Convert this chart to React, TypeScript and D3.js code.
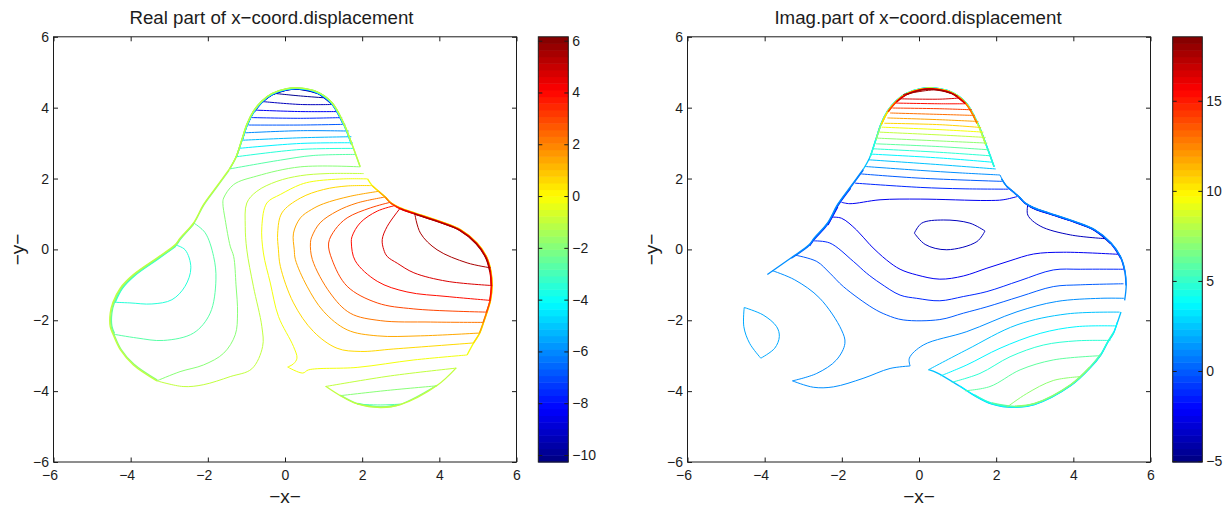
import React, { useEffect, useRef } from 'react';
import * as d3 from 'd3';

type Pt = [number, number];
type Line = [number, Pt[]];
type Span = [number, string, Pt, Pt];

const xyTicks = [-6, -4, -2, 0, 2, 4, 6];
const realBarTicks = [-10, -8, -6, -4, -2, 0, 2, 4, 6];
const imagBarTicks = [-5, 0, 5, 10, 15];
const realBarRange: Pt = [-10.27, 6.15];
const imagBarRange: Pt = [-5.05, 18.55];

// outline of the plate, shared by both plots
const lobeRim: Pt[] = [[-1.44, 2.27], [-1.27, 2.61], [-1.12, 3.1], [-0.99, 3.53], [-0.82, 3.9], [-0.6, 4.19], [-0.34, 4.4], [0.05, 4.54], [0.34, 4.56], [0.83, 4.45], [1.22, 4.14], [1.52, 3.57], [1.74, 2.96], [1.95, 2.33]];
const leftRim: Pt[] = [[-1.44, 2.27], [-1.77, 1.78], [-2.11, 1.27], [-2.37, 0.75], [-2.72, 0.32], [-2.85, 0.13], [-3.32, -0.24], [-3.93, -0.71], [-4.27, -1.09], [-4.46, -1.49], [-4.53, -1.8], [-4.53, -2.18], [-4.46, -2.39], [-4.27, -2.83], [-3.93, -3.26], [-3.32, -3.71]];
const rightRim: Pt[] = [[2.04, 2.14], [2.14, 1.99], [2.26, 1.8], [2.43, 1.64], [2.6, 1.48], [2.73, 1.33], [2.86, 1.24], [2.99, 1.17], [3.36, 1.03], [4.03, 0.79], [4.55, 0.56], [4.98, 0.18], [5.24, -0.24], [5.34, -0.62], [5.37, -1.02], [5.33, -1.44], [5.24, -1.77], [5.15, -2.06], [5.05, -2.36], [4.89, -2.64], [4.72, -2.98], [4.44, -3.35], [3.94, -3.85], [2.99, -4.39], [2.47, -4.47], [1.87, -4.37], [1.42, -4.13], [1.05, -3.87], [0.46, -3.49], [0.24, -3.4]];

const realLines: Line[] = [
    [-10, [[-0.25, 4.4], [0.4, 4.33], [1.0, 4.28]]],
    [-9.3, [[-0.56, 4.17], [0.4, 4.09], [1.24, 4.09]]],
    [-8.4, [[-0.75, 3.93], [0.4, 3.89], [1.36, 3.89]]],
    [-7.6, [[-0.86, 3.72], [0.4, 3.7], [1.48, 3.72]]],
    [-6.8, [[-0.95, 3.51], [0.4, 3.51], [1.56, 3.53]]],
    [-6, [[-1.03, 3.29], [0.4, 3.35], [1.65, 3.34]]],
    [-5.2, [[-1.12, 3.08], [0.4, 3.15], [1.72, 3.18]]],
    [-4.3, [[-1.21, 2.85], [0.4, 2.99], [1.76, 3.01]]],
    [-3.5, [[-1.29, 2.61], [0.4, 2.82], [1.78, 2.85]]],
    [-2.7, [[-1.44, 2.27], [-0.12, 2.52], [0.73, 2.65], [1.82, 2.68]]],
    [-3.5, [[-2.85, 0.13], [-2.59, -0.01], [-2.44, -0.52], [-2.59, -1.04], [-2.93, -1.42], [-3.45, -1.54], [-4.02, -1.51], [-4.46, -1.49]]],
    [-2.7, [[-2.37, 0.75], [-2.07, 0.47], [-1.85, -0.2], [-1.79, -0.86], [-1.94, -1.8], [-2.37, -2.36], [-3.15, -2.57], [-3.84, -2.5], [-4.46, -2.39]]],
    [-1.9, [[1.95, 2.33], [0.4, 2.33], [-0.73, 2.07], [-1.33, 1.83], [-1.59, 1.45], [-1.61, 1.3], [-1.55, 0.84], [-1.42, 0.09], [-1.33, -0.2], [-1.27, -1.0], [-1.23, -1.8], [-1.29, -2.41], [-1.59, -2.93], [-2.11, -3.26], [-2.72, -3.45], [-3.32, -3.71]]],
    [-1, [[2.04, 2.14], [1.09, 2.14], [0.4, 2.08], [-0.21, 1.92], [-0.73, 1.64], [-0.99, 1.31], [-1.03, 0.65], [-0.99, -0.01], [-0.82, -1.04], [-0.6, -2.18], [-0.58, -2.74], [-0.86, -3.37], [-1.42, -3.59], [-2.12, -3.82], [-2.64, -3.87], [-3.32, -3.71]]],
    [-0.2, [[2.14, 1.99], [1.51, 1.99], [0.73, 1.92], [0.4, 1.83], [-0.12, 1.55], [-0.47, 1.31], [-0.6, 0.65], [-0.56, -0.1], [-0.38, -0.95], [-0.17, -1.89], [0.22, -2.74], [0.31, -3.07], [0.22, -3.23], [0.07, -3.32], [0.46, -3.49], [0.61, -3.4], [1.87, -3.33], [3.34, -3.12], [4.72, -2.98]]],
    [0.6, [[2.26, 1.8], [1.61, 1.79], [1.0, 1.69], [0.4, 1.45], [-0.08, 1.03], [-0.19, 0.46], [-0.17, -0.01], [-0.12, -0.48], [0.22, -1.51], [0.74, -2.32], [1.35, -2.79], [1.95, -2.88], [2.82, -2.81], [4.89, -2.64]]],
    [1.4, [[2.43, 1.64], [1.69, 1.5], [1.0, 1.29], [0.68, 1.12], [0.4, 0.89], [0.22, 0.46], [0.24, -0.01], [0.27, -0.29], [0.57, -1.04], [1.0, -1.75], [1.61, -2.27], [2.39, -2.44], [3.51, -2.44], [5.05, -2.36]]],
    [2.2, [[2.6, 1.48], [1.87, 1.31], [1.35, 1.08], [0.91, 0.75], [0.7, 0.37], [0.66, 0.19], [0.71, -0.29], [1.17, -1.23], [1.69, -1.8], [2.47, -2.01], [3.77, -2.05], [5.15, -2.06]]],
    [3, [[2.73, 1.33], [2.21, 1.17], [1.61, 0.89], [1.3, 0.56], [1.13, 0.18], [1.22, -0.29], [1.61, -1.04], [2.39, -1.51], [3.34, -1.68], [5.24, -1.77]]],
    [3.9, [[2.86, 1.24], [2.39, 1.08], [1.95, 0.75], [1.74, 0.37], [1.72, 0.18], [1.82, -0.32], [2.39, -0.9], [3.16, -1.2], [4.2, -1.33], [5.33, -1.44]]],
    [4.7, [[2.99, 1.17], [2.65, 0.65], [2.52, 0.28], [2.56, -0.01], [2.65, -0.2], [2.91, -0.39], [3.34, -0.66], [4.2, -0.9], [5.37, -1.02]]],
    [5.5, [[3.36, 1.03], [3.51, 0.46], [3.94, -0.01], [4.72, -0.38], [5.33, -0.52]]],
    [-1, [[1.05, -3.87], [2.73, -3.57], [4.44, -3.35]]],
    [-1.9, [[1.42, -4.13], [2.65, -3.98], [3.94, -3.85]]],
    [-2.7, [[1.87, -4.37], [2.47, -4.39], [2.95, -4.37]]],
];

const realSpans: Span[] = [
    [-10, 'lobe', [-0.25, 4.4], [1.0, 4.28]],
    [-9.3, 'lobe', [-0.56, 4.17], [1.24, 4.09]],
    [-8.4, 'lobe', [-0.75, 3.93], [1.36, 3.89]],
    [-7.6, 'lobe', [-0.86, 3.72], [1.48, 3.72]],
    [-6.8, 'lobe', [-0.95, 3.51], [1.56, 3.53]],
    [-6, 'lobe', [-1.03, 3.29], [1.65, 3.34]],
    [-5.2, 'lobe', [-1.12, 3.08], [1.72, 3.18]],
    [-4.3, 'lobe', [-1.21, 2.85], [1.76, 3.01]],
    [-3.5, 'lobe', [-1.29, 2.61], [1.78, 2.85]],
    [-2.7, 'lobe', [-1.44, 2.27], [1.82, 2.68]],
    [-1.9, 'lobe', [-1.44, 2.27], [1.95, 2.33]],
    [-1, 'lobe', [-1.44, 2.27], [1.95, 2.33]],
    [-3.5, 'left', [-2.85, 0.13], [-4.46, -1.49]],
    [-2.7, 'left', [-2.37, 0.75], [-4.46, -2.39]],
    [-1.9, 'left', [-1.44, 2.27], [-3.32, -3.71]],
    [-1, 'left', [-1.44, 2.27], [-3.32, -3.71]],
    [-0.2, 'right', [2.14, 1.99], [4.72, -2.98]],
    [0.6, 'right', [2.26, 1.8], [4.89, -2.64]],
    [1.4, 'right', [2.43, 1.64], [5.05, -2.36]],
    [2.2, 'right', [2.6, 1.48], [5.15, -2.06]],
    [3, 'right', [2.73, 1.33], [5.24, -1.77]],
    [3.9, 'right', [2.86, 1.24], [5.33, -1.44]],
    [4.7, 'right', [2.99, 1.17], [5.37, -1.02]],
    [5.5, 'right', [3.36, 1.03], [5.34, -0.62]],
    [-1, 'right', [4.44, -3.35], [1.05, -3.87]],
    [-1.9, 'right', [3.94, -3.85], [1.42, -4.13]],
    [-2.7, 'right', [2.99, -4.39], [1.87, -4.37]],
];

const imagLines: Line[] = [
    [17.8, [[-0.41, 4.37], [0.5, 4.5], [1.0, 4.33]]],
    [16.6, [[-0.49, 4.25], [0.54, 4.24], [1.02, 4.27]]],
    [15.4, [[-0.6, 4.13], [0.54, 4.11], [1.19, 4.11]]],
    [14.2, [[-0.69, 3.99], [0.54, 3.97], [1.37, 3.94]]],
    [13, [[-0.75, 3.85], [0.54, 3.81], [1.45, 3.78]]],
    [11.8, [[-0.82, 3.71], [0.54, 3.66], [1.54, 3.61]]],
    [10.7, [[-0.9, 3.56], [0.54, 3.52], [1.61, 3.44]]],
    [9.5, [[-0.97, 3.45], [0.54, 3.38], [1.67, 3.31]]],
    [8.3, [[-1.03, 3.31], [0.54, 3.23], [1.73, 3.16]]],
    [7.1, [[-1.08, 3.14], [0.54, 3.06], [1.77, 3.0]]],
    [6, [[-1.12, 2.98], [0.54, 2.9], [1.82, 2.81]]],
    [4.8, [[-1.19, 2.84], [0.54, 2.74], [1.87, 2.64]]],
    [3.6, [[-1.25, 2.69], [0.54, 2.58], [1.91, 2.46]]],
    [2.4, [[-1.32, 2.53], [0.54, 2.39], [1.99, 2.27]]],
    [1.2, [[-1.4, 2.34], [0.03, 2.23], [1.06, 2.16], [2.1, 2.1], [2.17, 1.94]]],
    [0, [[-1.5, 2.13], [0.03, 2.01], [2.16, 1.92]]],
    [-1.2, [[-1.66, 1.87], [0.03, 1.75], [1.14, 1.71], [2.32, 1.7]]],
    [-2.4, [[-2.01, 1.33], [-1.79, 1.29], [-1.01, 1.4], [0.03, 1.42], [1.76, 1.38], [2.18, 1.4], [2.54, 1.49]]],
    [-3.6, [[-0.12, 0.46], [0.07, 0.74], [0.63, 0.83], [1.32, 0.74], [1.71, 0.52], [1.5, 0.22], [0.72, -0.01], [0.16, 0.14], [-0.12, 0.46]]],
    [-3.6, [[2.82, 1.26], [2.82, 0.97], [3.14, 0.66], [3.92, 0.41], [4.87, 0.3]]],
    [-2.4, [[-2.27, 0.91], [-2.01, 0.88], [-1.62, 0.55], [-1.27, 0.13], [-0.84, -0.3], [-0.49, -0.56], [-0.06, -0.72], [0.54, -0.84], [1.15, -0.75], [1.76, -0.53], [2.36, -0.32], [2.97, -0.13], [3.74, -0.08], [5.19, -0.14]]],
    [-1.2, [[-2.72, 0.24], [-2.31, 0.18], [-1.7, -0.34], [-1.36, -0.67], [-1.01, -0.95], [-0.49, -1.29], [-0.06, -1.38], [0.54, -1.45], [1.15, -1.33], [1.76, -1.19], [2.62, -0.88], [3.48, -0.58], [4.18, -0.56], [5.3, -0.56]]],
    [0, [[-3.22, -0.16], [-2.65, -0.34], [-2.31, -0.67], [-1.96, -1.05], [-1.19, -1.66], [-0.84, -1.85], [-0.41, -1.99], [0.54, -1.98], [1.15, -1.8], [1.76, -1.62], [2.62, -1.33], [3.48, -1.05], [4.18, -1.0], [5.3, -0.97]]],
    [1.2, [[-3.8, -0.6], [-3.22, -0.86], [-2.57, -1.38], [-2.01, -2.27], [-1.92, -2.65], [-2.14, -3.12], [-2.65, -3.5], [-3.28, -3.71], [-2.74, -3.89], [-2.22, -3.88], [-1.45, -3.64], [-0.75, -3.36], [-0.23, -3.29], [-0.25, -3.07], [0.11, -2.7], [1.24, -2.32], [2.54, -1.76], [3.57, -1.47], [4.7, -1.38], [5.32, -1.38]]],
    [1.8, [[-4.53, -1.64], [-4.04, -1.85], [-3.69, -2.18], [-3.62, -2.46], [-3.74, -2.79], [-4.1, -3.07]]],
    [1.8, [[-4.1, -3.07], [-4.39, -2.65], [-4.54, -2.18], [-4.53, -1.64]]],
    [2.4, [[0.24, -3.4], [1.24, -2.83], [2.54, -2.13], [3.84, -1.82], [5.2, -1.77]]],
    [3.6, [[0.56, -3.57], [1.24, -3.26], [2.1, -2.79], [3.14, -2.37], [4.09, -2.18], [5.13, -2.16]]],
    [4.8, [[0.85, -3.75], [1.58, -3.5], [2.36, -3.03], [3.22, -2.7], [4.09, -2.58], [4.96, -2.57]]],
    [6, [[1.19, -3.99], [1.84, -3.87], [2.62, -3.4], [3.48, -3.12], [4.7, -3.0]]],
    [7.1, [[2.27, -4.46], [2.79, -4.07], [3.48, -3.7], [4.2, -3.59]]],
];

const imagSpans: Span[] = [
    [17.8, 'lobe', [-0.41, 4.37], [1.0, 4.33]],
    [16.6, 'lobe', [-0.49, 4.25], [1.02, 4.27]],
    [15.4, 'lobe', [-0.6, 4.13], [1.19, 4.11]],
    [14.2, 'lobe', [-0.69, 3.99], [1.37, 3.94]],
    [13, 'lobe', [-0.75, 3.85], [1.45, 3.78]],
    [11.8, 'lobe', [-0.82, 3.71], [1.54, 3.61]],
    [10.7, 'lobe', [-0.9, 3.56], [1.61, 3.44]],
    [9.5, 'lobe', [-0.97, 3.45], [1.67, 3.31]],
    [8.3, 'lobe', [-1.03, 3.31], [1.73, 3.16]],
    [7.1, 'lobe', [-1.08, 3.14], [1.77, 3.0]],
    [6, 'lobe', [-1.12, 2.98], [1.82, 2.81]],
    [4.8, 'lobe', [-1.19, 2.84], [1.87, 2.64]],
    [3.6, 'lobe', [-1.25, 2.69], [1.91, 2.46]],
    [2.4, 'lobe', [-1.44, 2.27], [1.95, 2.33]],
    [1.2, 'left', [-1.44, 2.27], [-3.93, -0.71]],
    [0, 'left', [-1.44, 2.27], [-3.32, -0.24]],
    [-1.2, 'left', [-1.77, 1.78], [-2.85, 0.13]],
    [-2.4, 'left', [-2.11, 1.27], [-2.37, 0.75]],
    [1.2, 'right', [2.14, 1.99], [5.33, -1.44]],
    [0, 'right', [2.14, 1.99], [5.37, -1.02]],
    [-1.2, 'right', [2.26, 1.8], [5.34, -0.62]],
    [-2.4, 'right', [2.6, 1.48], [5.24, -0.24]],
    [-3.6, 'right', [2.86, 1.24], [4.98, 0.18]],
    [2.4, 'right', [5.24, -1.77], [0.24, -3.4]],
    [3.6, 'right', [5.15, -2.06], [1.05, -3.87]],
    [4.8, 'right', [5.05, -2.36], [1.42, -4.13]],
    [6, 'right', [4.72, -2.98], [1.87, -4.37]],
    [7.1, 'right', [4.44, -3.35], [2.47, -4.47]],
];

const rims: Record<string, { points: Pt[], center: Pt }> = {
    lobe: { points: lobeRim, center: [0.3, 3] },
    left: { points: leftRim, center: [-2, -1.5] },
    right: { points: rightRim, center: [3.5, -1] },
};

const font = '"Liberation Sans", Arial, sans-serif';
const ink = '#1c1c1c';

// same ramp as matlab's jet
const jet = (t: number) => {
    const c = (v: number) => Math.round(255 * Math.max(0, Math.min(1, 1.5 - Math.abs(4 * t - v))));
    return `rgb(${c(3)},${c(2)},${c(1)})`;
};

const nearest = (rim: Pt[], p: Pt) => d3.minIndex(rim, q => Math.hypot(q[0] - p[0], q[1] - p[1]));

// break a line where it turns sharply so the spline keeps the corner
const splitAtCorners = (pts: Pt[]) => {
    const parts: Pt[][] = [[pts[0]]];
    pts.slice(1).forEach((p, i) => {
        parts[parts.length - 1].push(p);
        const next = pts[i + 2];
        if (!next) return;
        const a = Math.atan2(p[1] - pts[i][1], p[0] - pts[i][0]);
        const b = Math.atan2(next[1] - p[1], next[0] - p[0]);
        let turn = Math.abs(a - b);
        if (turn > Math.PI) turn = 2 * Math.PI - turn;
        if (turn > 1.05) parts.push([p]);
    });
    return parts;
};

const drawPanel = (root: any, opts: any) => {
    const { left, right, barLeft, barRight, lines, spans, barRange, barTicks, outer, title, titleX } = opts;
    const top = 36.8, bottom = 462;
    const x = d3.scaleLinear().domain([-6, 6]).range([left, right]);
    const y = d3.scaleLinear().domain([-6, 6]).range([bottom, top]);
    const barY = d3.scaleLinear().domain(barRange).range([bottom, top]);
    const colour = (level: number) => jet((level - barRange[0]) / (barRange[1] - barRange[0]));
    const path = d3.line<Pt>().x(d => x(d[0])).y(d => y(d[1])).curve(d3.curveCatmullRom.alpha(0.5));

    const g = root.append('g');

    // contour strokes, low levels first; the pieces along the rim are a bit heavier
    const strokes: [number, Pt[], number][] = [];
    lines.forEach(([level, pts]: Line) => {
        splitAtCorners(pts).forEach(part => strokes.push([level, part, 1]));
    });
    spans.forEach(([level, name, from, to]: Span) => {
        const { points, center } = rims[name];
        const i = nearest(points, from), j = nearest(points, to);
        const levels = spans.filter((s: Span) => s[1] === name).map((s: Span) => s[0]);
        const [lo, hi] = d3.extent(levels) as Pt;
        const depth = Math.abs(level - outer[name]) / Math.max(hi - lo, 1);
        const k = 1 - 0.025 * depth;
        const part = points.slice(Math.min(i, j), Math.max(i, j) + 1)
            .map(p => [center[0] + (p[0] - center[0]) * k, center[1] + (p[1] - center[1]) * k] as Pt);
        strokes.push([level, part, 1.3]);
    });
    strokes.sort((a, b) => a[0] - b[0]);
    g.selectAll('.contour').data(strokes).enter().append('path')
        .attr('class', 'contour')
        .attr('fill', 'none')
        .attr('stroke', (d: any) => colour(d[0]))
        .attr('stroke-width', (d: any) => d[2])
        .attr('d', (d: any) => path(d[1]));

    // box with inward ticks on all four sides
    const style = (sel: any) => {
        sel.select('.domain').remove();
        sel.selectAll('line').attr('stroke', ink);
        sel.selectAll('text').attr('fill', ink).attr('font-family', font).attr('font-size', 14);
    };
    const bottomAxis = g.append('g').attr('transform', `translate(0,${bottom})`)
        .call(d3.axisBottom(x).tickValues(xyTicks).tickSize(-4.5).tickPadding(8));
    style(bottomAxis);
    bottomAxis.selectAll('text').filter((d: any) => d < 0).attr('text-anchor', 'end').attr('x', 4);
    style(g.append('g').attr('transform', `translate(${left},0)`)
        .call(d3.axisLeft(y).tickValues(xyTicks).tickSize(-4.5).tickPadding(4.5)));
    style(g.append('g').attr('transform', `translate(0,${top})`)
        .call(d3.axisTop(x).tickValues(xyTicks).tickSize(-4.5).tickFormat(() => '')));
    style(g.append('g').attr('transform', `translate(${right},0)`)
        .call(d3.axisRight(y).tickValues(xyTicks).tickSize(-4.5).tickFormat(() => '')));
    g.append('rect').attr('x', left).attr('y', top).attr('width', right - left).attr('height', bottom - top)
        .attr('fill', 'none').attr('stroke', ink);

    const label = (text: string, size: number) => g.append('text').text(text)
        .attr('fill', ink).attr('font-family', font).attr('font-size', size).attr('text-anchor', 'middle');
    label(title, 18.7).attr('x', titleX).attr('y', 24);
    label('\u2212x\u2212', 19).attr('x', (left + right) / 2).attr('y', 503);
    label('\u2212y\u2212', 19).attr('transform', `translate(${left - 30},${(top + bottom) / 2}) rotate(-90)`);

    // colorbar, 64 bands of jet
    const bands = d3.range(64);
    const bandH = (bottom - top) / 64;
    g.selectAll('.band').data(bands).enter().append('rect')
        .attr('class', 'band')
        .attr('x', barLeft)
        .attr('y', (i: number) => bottom - (i + 1) * bandH)
        .attr('width', barRight - barLeft)
        .attr('height', bandH + 0.5)
        .attr('fill', (i: number) => jet((i + 0.5) / 64));
    style(g.append('g').attr('transform', `translate(${barRight},0)`)
        .call(d3.axisRight(barY).tickValues(barTicks).tickSize(-4).tickPadding(4)));
    style(g.append('g').attr('transform', `translate(${barLeft},0)`)
        .call(d3.axisLeft(barY).tickValues(barTicks).tickSize(-4).tickFormat(() => '')));
    g.append('rect').attr('x', barLeft).attr('y', top).attr('width', barRight - barLeft).attr('height', bottom - top)
        .attr('fill', 'none').attr('stroke', ink);
};

const App = () => {
    const svgRef = useRef<SVGSVGElement>(null);

    useEffect(() => {
        const svg = d3.select(svgRef.current);
        svg.selectAll('*').remove();
        drawPanel(svg, {
            left: 53.5, right: 516.5, barLeft: 538.3, barRight: 568.3,
            lines: realLines, spans: realSpans,
            barRange: realBarRange, barTicks: realBarTicks,
            outer: { lobe: -1, left: -1, right: -0.2 },
            title: 'Real part of x\u2212coord.displacement', titleX: 271.5,
        });
        drawPanel(svg, {
            left: 687.5, right: 1150.5, barLeft: 1172.7, barRight: 1202.3,
            lines: imagLines, spans: imagSpans,
            barRange: imagBarRange, barTicks: imagBarTicks,
            outer: { lobe: 2.4, left: 1.2, right: 1.2 },
            title: 'Imag.part of x\u2212coord.displacement', titleX: 918,
        });
    }, []);

    return (
        <svg ref={svgRef} width={1231} height={512}
            style={{ position: 'absolute', left: 0, top: 0, display: 'block', background: '#fff' }} />
    );
};

export default App;
